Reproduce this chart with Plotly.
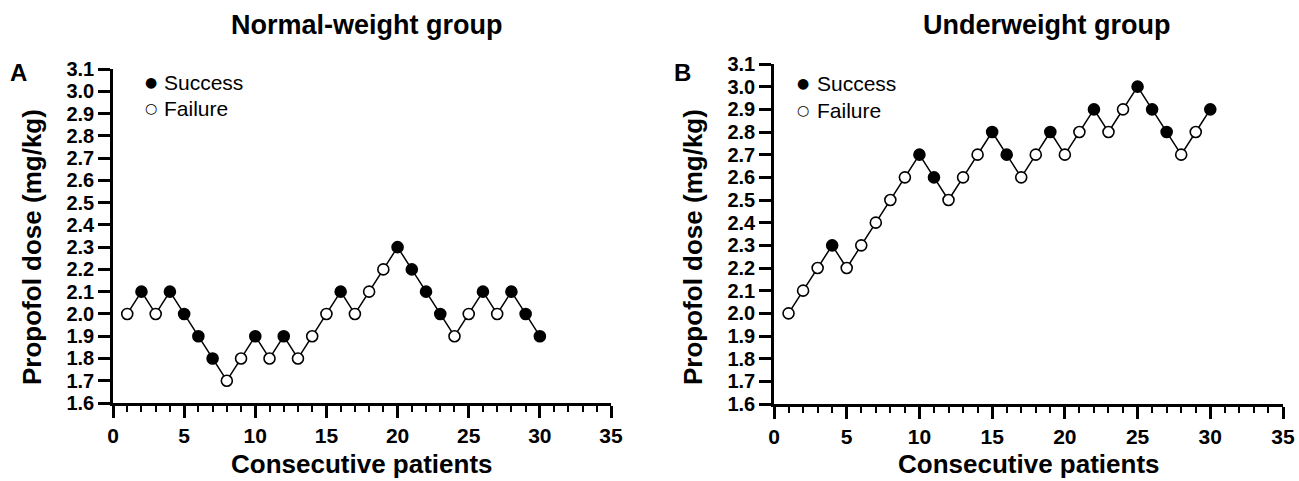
import plotly.graph_objects as go

patients = list(range(1, 31))
normal_dose = [2.0, 2.1, 2.0, 2.1, 2.0, 1.9, 1.8, 1.7, 1.8, 1.9, 1.8, 1.9, 1.8, 1.9, 2.0,
               2.1, 2.0, 2.1, 2.2, 2.3, 2.2, 2.1, 2.0, 1.9, 2.0, 2.1, 2.0, 2.1, 2.0, 1.9]
normal_success = [0, 1, 0, 1, 1, 1, 1, 0, 0, 1, 0, 1, 0, 0, 0,
                  1, 0, 0, 0, 1, 1, 1, 1, 0, 0, 1, 0, 1, 1, 1]
under_dose = [2.0, 2.1, 2.2, 2.3, 2.2, 2.3, 2.4, 2.5, 2.6, 2.7, 2.6, 2.5, 2.6, 2.7, 2.8,
              2.7, 2.6, 2.7, 2.8, 2.7, 2.8, 2.9, 2.8, 2.9, 3.0, 2.9, 2.8, 2.7, 2.8, 2.9]
under_success = [0, 0, 0, 1, 0, 0, 0, 0, 0, 1, 1, 0, 0, 0, 1,
                 1, 0, 0, 1, 0, 0, 1, 0, 0, 1, 1, 1, 0, 0, 1]
titles = ["Normal-weight group", "Underweight group"]
panel_labels = ["A", "B"]
x_title = "Consecutive patients"
y_title = "Propofol dose (mg/kg)"
legend_labels = ["Success", "Failure"]
y_ticks = [round(1.6 + 0.1 * i, 1) for i in range(16)]
x_ticks = [0, 5, 10, 15, 20, 25, 30, 35]

FONT = "Liberation Sans, Arial, Helvetica, sans-serif"
W, H = 1299, 481

def px(x):
    return x / W

def py(y):
    return 1 - y / H

fig = go.Figure()

panels = [
    dict(dose=normal_dose, succ=normal_success, xa="x", ya="y"),
    dict(dose=under_dose, succ=under_success, xa="x2", ya="y2"),
]
for p in panels:
    fig.add_trace(go.Scatter(x=patients, y=p["dose"], mode="lines",
                             line=dict(color="black", width=1.5),
                             xaxis=p["xa"], yaxis=p["ya"], showlegend=False,
                             hoverinfo="skip"))
    colors = ["black" if s else "white" for s in p["succ"]]
    fig.add_trace(go.Scatter(x=patients, y=p["dose"], mode="markers",
                             marker=dict(size=11, color=colors,
                                         line=dict(color="black", width=1.6)),
                             xaxis=p["xa"], yaxis=p["ya"], showlegend=False))

# plot-area pixel boxes (left, right, top, bottom)
boxes = [(113, 611, 69, 403), (774, 1283, 64, 404)]

def xax(box, anchor):
    l, r, t, b = box
    return dict(domain=[px(l), px(r)], anchor=anchor, range=[0, 35], automargin=False,
                tickvals=x_ticks, ticks="outside", ticklen=12, tickwidth=2.5,
                tickcolor="black", showline=True, linewidth=2.5, linecolor="black",
                showgrid=False, zeroline=False,
                minor=dict(dtick=1, tick0=0, ticks="outside", ticklen=6,
                           tickwidth=2.2, tickcolor="black", showgrid=False),
                tickfont=dict(family=FONT, size=21, color="black", weight="bold"))

def yax(box, anchor):
    l, r, t, b = box
    return dict(domain=[py(b), py(t)], anchor=anchor, range=[1.6, 3.1],
                automargin=False,
                tickvals=y_ticks, tickformat=".1f", ticks="outside", ticklen=12,
                tickwidth=2.5, tickcolor="black", showline=True, linewidth=2.5,
                linecolor="black", showgrid=False, zeroline=False,
                tickfont=dict(family=FONT, size=20, color="black", weight="bold"))

def ann(text, x, y, size, xanchor="center", family=FONT, angle=0):
    return dict(text=text, x=px(x), y=py(y), xref="paper", yref="paper",
                showarrow=False, xanchor=xanchor, yanchor="middle", textangle=angle,
                font=dict(family=family, size=size, color="black"))

annotations = []
title_cx = [367, 1046]
letter_x = [18, 683]
ytitle_x = [32, 693]
legend_dot_x = [151, 803]
legend_txt_x = [162, 815]
legend_y = [(82, 108), (83, 110)]
for i, box in enumerate(boxes):
    l, r, t, b = box
    annotations.append(ann("<b>%s</b>" % titles[i], title_cx[i], 25, 27))
    annotations.append(ann("<b>%s</b>" % panel_labels[i], letter_x[i], 72, 24))
    annotations.append(ann("<b>%s</b>" % x_title, (l + r) / 2, 464, 26))
    annotations.append(ann("<b>%s</b>" % y_title, ytitle_x[i], 247, 26, angle=-90))
    for j, sym in enumerate(["●", "○"]):
        yy = legend_y[i][j]
        annotations.append(ann(sym, legend_dot_x[i], yy, 14, family="DejaVu Sans"))
        annotations.append(ann(legend_labels[j], legend_txt_x[i], yy, 21, xanchor="left"))

fig.update_layout(
    width=W, height=H,
    margin=dict(l=0, r=0, t=0, b=0),
    paper_bgcolor="white", plot_bgcolor="white",
    showlegend=False,
    xaxis=xax(boxes[0], "y"), yaxis=yax(boxes[0], "x"),
    xaxis2=xax(boxes[1], "y2"), yaxis2=yax(boxes[1], "x2"),
    annotations=annotations,
)

fig.write_html("out.html", config={"displayModeBar": False},
               post_script="document.body.style.margin='0';"
                           "document.body.style.overflow='hidden';")
